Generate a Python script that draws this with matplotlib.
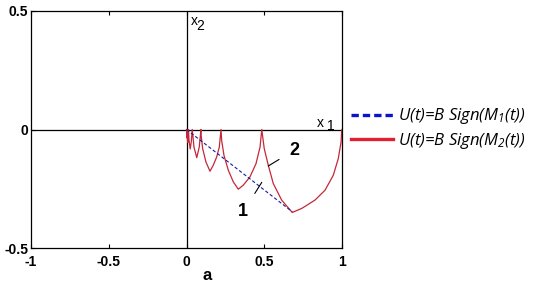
import matplotlib
matplotlib.use("Agg")
import matplotlib.pyplot as plt
from matplotlib.lines import Line2D

# Traced data
red_x = [1.000, 0.998, 0.994, 0.976, 0.944, 0.891, 0.826, 0.741, 0.680,
         0.612, 0.558, 0.526, 0.500, 0.484,
         0.484, 0.473, 0.447, 0.408, 0.365, 0.333,
         0.301, 0.269, 0.241, 0.226, 0.222,
         0.222, 0.211, 0.194, 0.172, 0.151,
         0.125, 0.104, 0.093, 0.093,
         0.093, 0.082, 0.066, 0.048, 0.037,
         0.037, 0.031, 0.024, 0.016, 0.013,
         0.013, 0.010, 0.008, 0.005, 0.004,
         0.004, 0.003, 0.002, 0.001, 0.000]
red_y = [0.000, -0.004, -0.053, -0.123, -0.193, -0.256, -0.298, -0.333, -0.350,
         -0.298, -0.228, -0.151, -0.081, 0.000,
         0.000, -0.074, -0.144, -0.200, -0.235, -0.252,
         -0.221, -0.172, -0.109, -0.046, 0.000,
         0.000, -0.074, -0.116, -0.151, -0.176,
         -0.137, -0.081, -0.018, 0.000,
         0.000, -0.074, -0.119, -0.074, 0.000,
         0.000, -0.050, -0.082, -0.045, 0.000,
         0.000, -0.035, -0.055, -0.030, 0.000,
         0.000, -0.022, -0.035, -0.018, 0.000]

blue_x = [0.0, 0.68]
blue_y = [0.0, -0.347]

xticks = [-1, -0.5, 0, 0.5, 1]
xticklabels = ["-1", "-0.5", "0", "0.5", "1"]
yticks = [-0.5, 0, 0.5]
yticklabels = ["-0.5", "0", "0.5"]

legend_labels = [r"U(t)=B Sign(M$_{1}$(t))", r"U(t)=B Sign(M$_{2}$(t))"]

plt.rcParams["font.family"] = ["Liberation Sans", "DejaVu Sans"]
plt.rcParams["mathtext.default"] = "regular"

fig = plt.figure(figsize=(5.35, 2.86), dpi=100)
ax = fig.add_axes([31/535, 1-248/286, 311/535, 237/286])

ax.axhline(0, color="black", lw=0.9, zorder=1)
ax.axvline(0, color="black", lw=0.9, zorder=1)

ax.plot(blue_x, blue_y, color="#1a1a9c", lw=0.8, ls=(0, (3, 2)), zorder=3)
ax.plot(red_x, red_y, color="#c42838", lw=0.9, zorder=2)

ax.set_xlim(-1, 1)
ax.set_ylim(-0.5, 0.5)
ax.set_xticks(xticks)
ax.set_xticklabels(xticklabels)
ax.set_yticks(yticks)
ax.set_yticklabels(yticklabels)
ax.tick_params(direction="in", top=True, right=False, length=3, width=0.8,
               labelsize=10, pad=2)
ax.tick_params(axis="x", pad=5)
for lab in ax.get_xticklabels() + ax.get_yticklabels():
    lab.set_fontweight("bold")
for s in ax.spines.values():
    s.set_linewidth(0.9)

ax.set_xlabel("a", fontsize=12, fontweight="bold")
ax.xaxis.set_label_coords(0.566, -0.085)

# axis name labels (letter + subscript drawn separately)
ax.text(0.862, 0.029, "x", fontsize=10, ha="center", va="center")
ax.text(0.926, 0.013, "1", fontsize=10, ha="center", va="center")
ax.text(0.051, 0.456, "x", fontsize=10, ha="center", va="center")
ax.text(0.090, 0.437, "2", fontsize=10, ha="center", va="center")

# annotations
ax.annotate("2", xy=(0.526, -0.154), xytext=(0.691, -0.088), fontsize=13,
            fontweight="bold", ha="center", va="center",
            arrowprops=dict(arrowstyle="-", color="black", lw=0.8,
                            shrinkA=6, shrinkB=0))
ax.annotate("1", xy=(0.484, -0.223), xytext=(0.365, -0.347), fontsize=13,
            fontweight="bold", ha="center", va="center",
            arrowprops=dict(arrowstyle="-", color="black", lw=0.8,
                            shrinkA=6, shrinkB=0))

handles = [Line2D([], [], color="#0a14c8", lw=2.4, ls=(0, (2.2, 1.2))),
           Line2D([], [], color="#e0202e", lw=2.4)]
leg = fig.legend(handles, legend_labels, loc="upper left",
                 bbox_to_anchor=(348/535, 1-103/286), frameon=False,
                 prop={"family": "Open Sans", "style": "italic", "size": 12},
                 handlelength=2.5, handletextpad=0.3, labelspacing=0.25,
                 borderpad=0.2, borderaxespad=0)

fig.savefig("out.png", dpi=100)
